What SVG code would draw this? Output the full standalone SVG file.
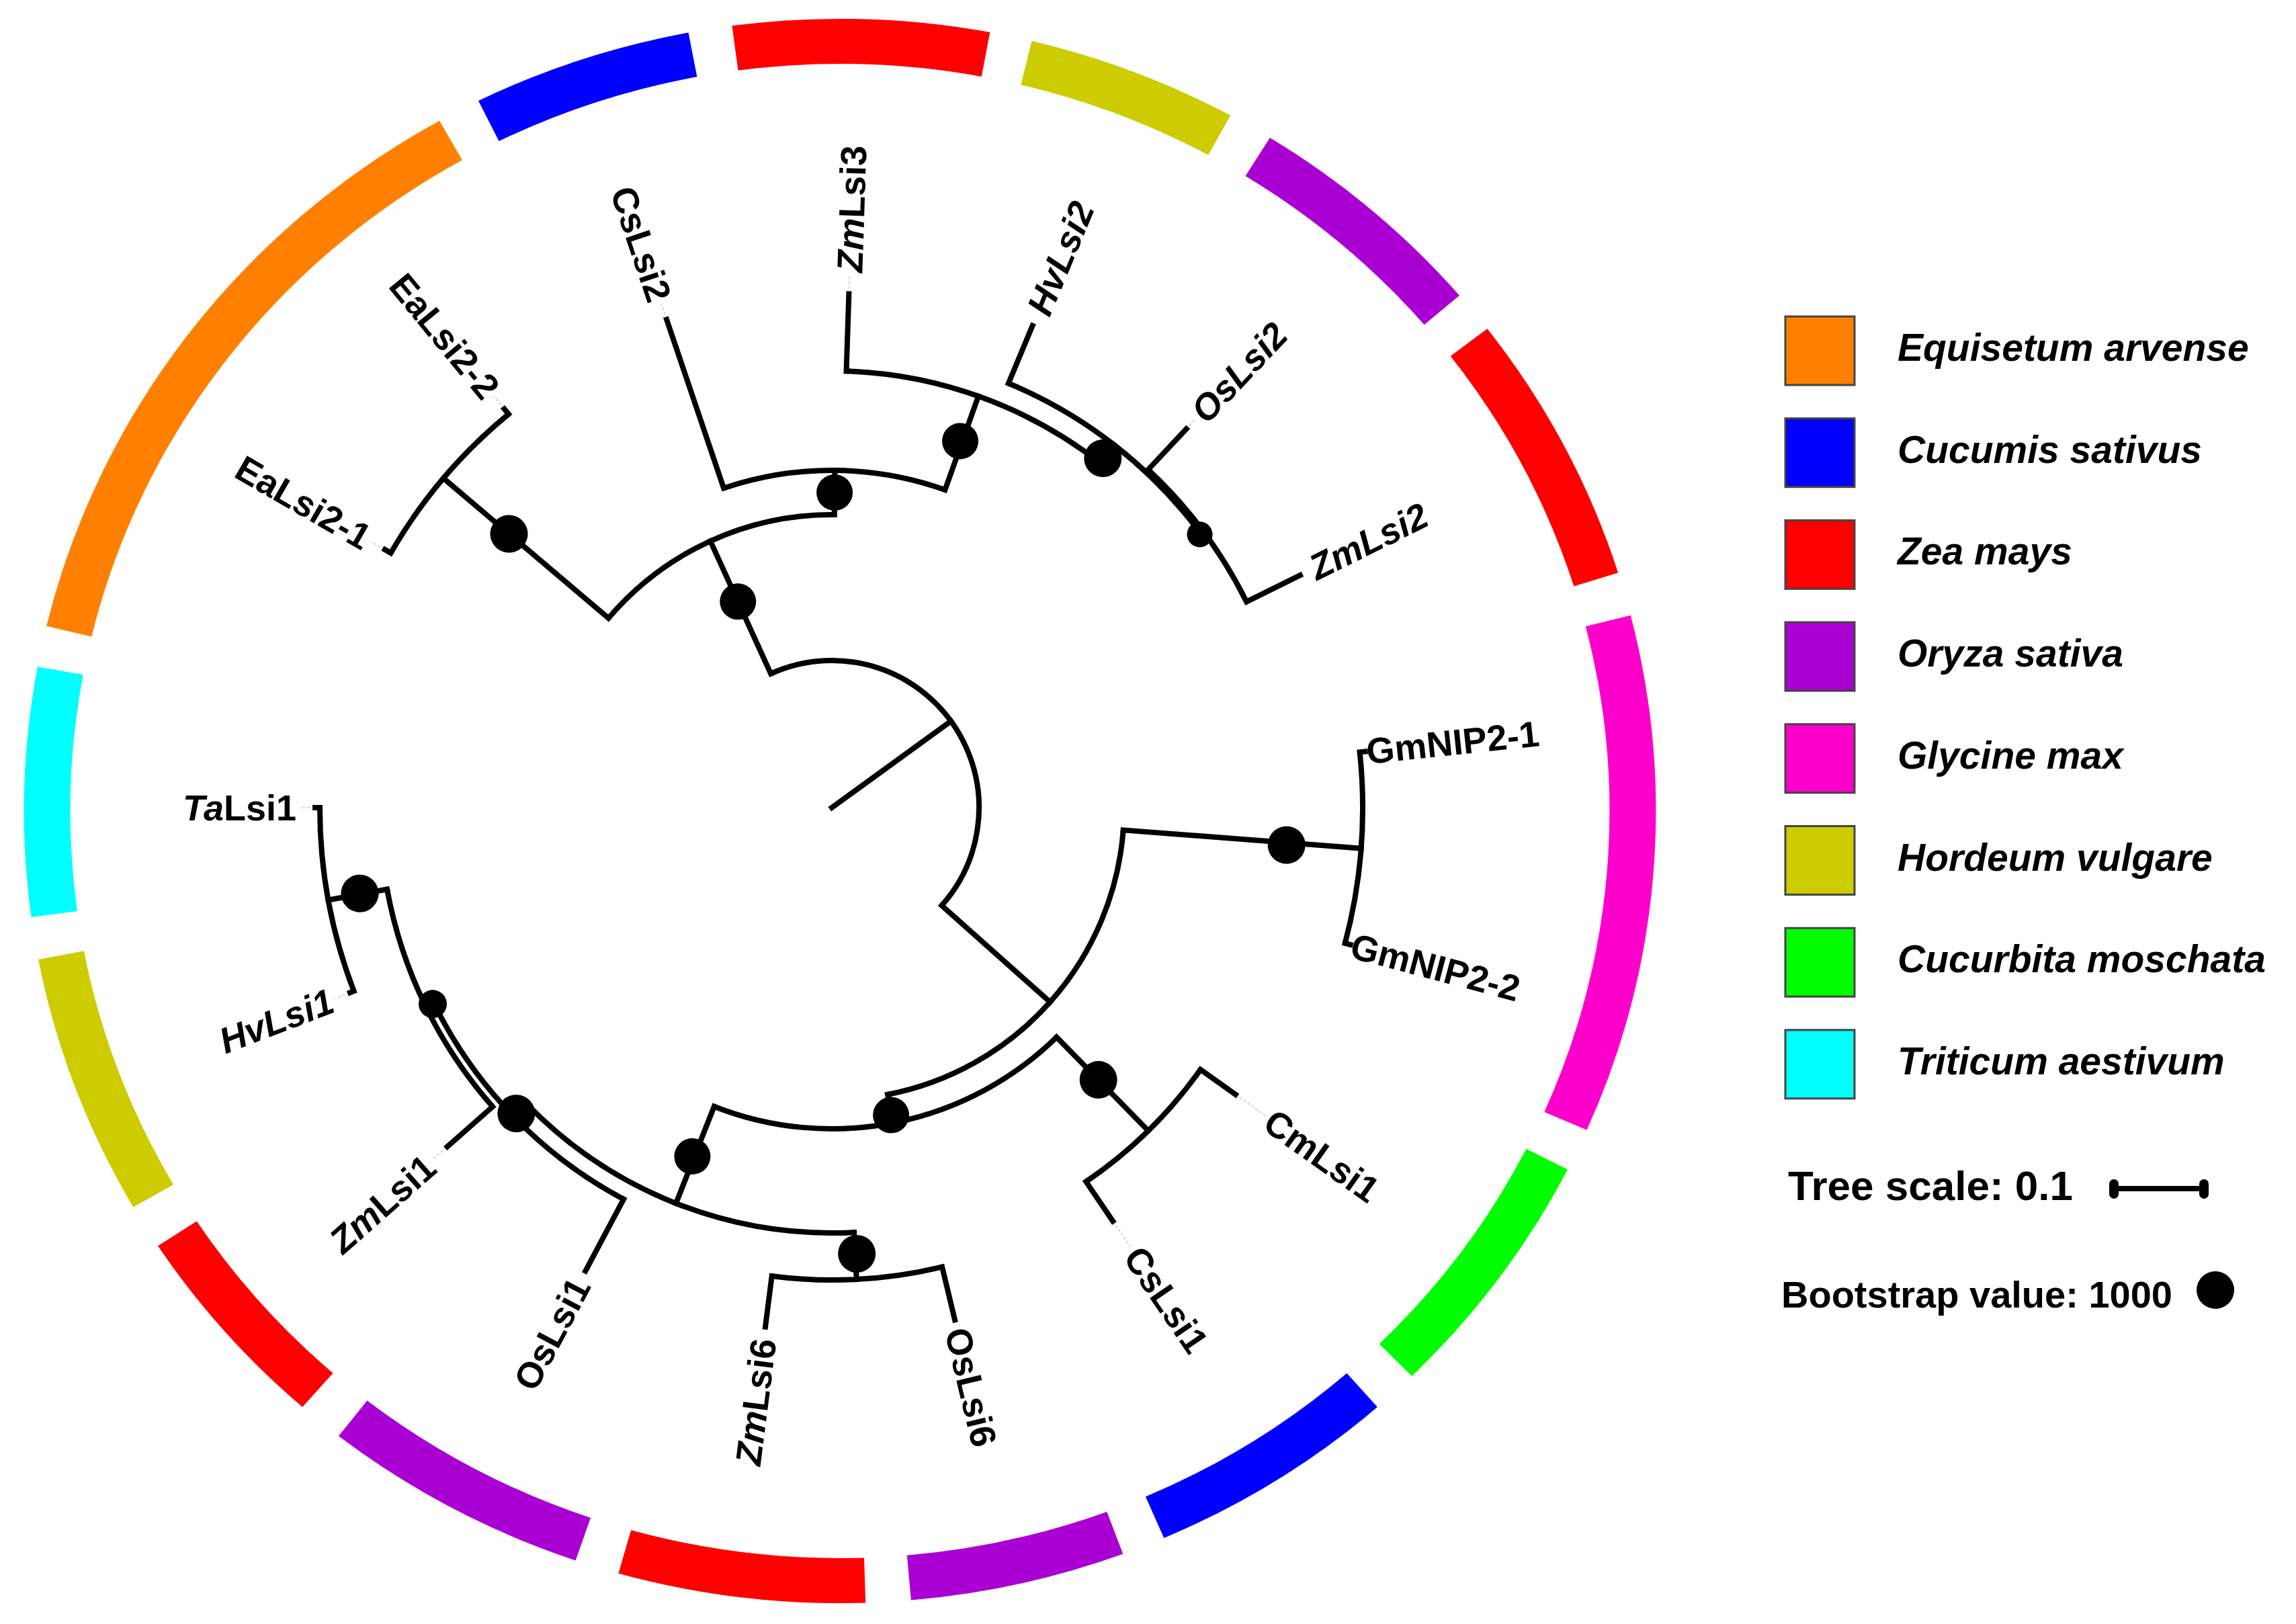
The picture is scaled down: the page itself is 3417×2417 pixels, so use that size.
<svg xmlns="http://www.w3.org/2000/svg" width="3417" height="2417" viewBox="0 0 3417 2417">
<style>
.br{stroke:#000;stroke-width:8;fill:none;stroke-linecap:square}
.arc{stroke:#000;stroke-width:8;fill:none}
.dot{fill:#000}
.lab{font-family:'Liberation Sans',Arial,sans-serif;font-weight:bold;font-size:54px;fill:#000}
.gd{stroke:#d4d4d4;stroke-width:2;stroke-dasharray:4 3}
.ring{fill:none;stroke-width:67}
.leg{font-family:'Liberation Sans',Arial,sans-serif;font-weight:bold;font-style:italic;font-size:57px;fill:#000}
.sw{stroke:#444;stroke-width:3}
</style>
<rect width="3417" height="2417" fill="#fff"/>
<g id="ring" transform="translate(1250,1207) scale(1.03,1)">
<circle class="ring" r="1145.5" stroke="#FF8000" stroke-dasharray="941.7 7300" transform="rotate(193.5)"/>
<circle class="ring" r="1145.5" stroke="#0000FF" stroke-dasharray="311.9 7300" transform="rotate(243.7)"/>
<circle class="ring" r="1145.5" stroke="#FF0000" stroke-dasharray="363.9 7300" transform="rotate(262.4)"/>
<circle class="ring" r="1145.5" stroke="#CCCC00" stroke-dasharray="299.9 7300" transform="rotate(283.6)"/>
<circle class="ring" r="1145.5" stroke="#AA00D4" stroke-dasharray="351.9 7300" transform="rotate(301.8)"/>
<circle class="ring" r="1145.5" stroke="#FF0000" stroke-dasharray="399.9 7300" transform="rotate(322.5)"/>
<circle class="ring" r="1145.5" stroke="#FF00CC" stroke-dasharray="760.7 7300" transform="rotate(345.7)"/>
<circle class="ring" r="1145.5" stroke="#00FF00" stroke-dasharray="371.9 7300" transform="rotate(26.9)"/>
<circle class="ring" r="1145.5" stroke="#0000FF" stroke-dasharray="355.9 7300" transform="rotate(48.8)"/>
<circle class="ring" r="1145.5" stroke="#AA00D4" stroke-dasharray="305.9 7300" transform="rotate(69.7)"/>
<circle class="ring" r="1145.5" stroke="#FF0000" stroke-dasharray="350.9 7300" transform="rotate(88.2)"/>
<circle class="ring" r="1145.5" stroke="#AA00D4" stroke-dasharray="379.9 7300" transform="rotate(108.9)"/>
<circle class="ring" r="1145.5" stroke="#FF0000" stroke-dasharray="309.9 7300" transform="rotate(131.2)"/>
<circle class="ring" r="1145.5" stroke="#CCCC00" stroke-dasharray="383.9 7300" transform="rotate(150)"/>
<circle class="ring" r="1145.5" stroke="#00FFFF" stroke-dasharray="363.9 7300" transform="rotate(172.3)"/>
</g>
<g id="tree" transform="translate(1238,1202)">
<g id="connectors">
<circle class="arc" r="219" stroke-dasharray="597.0 1400" transform="rotate(245.5)"/>
<circle class="arc" r="436" stroke-dasharray="382.0 2800" transform="rotate(220.3)"/>
<circle class="arc" r="758" stroke-dasharray="272.5 4800" transform="rotate(210)"/>
<circle class="arc" r="502" stroke-dasharray="335.6 3200" transform="rotate(251.3)"/>
<circle class="arc" r="650" stroke-dasharray="408.4 4100" transform="rotate(271.9)"/>
<circle class="arc" r="684" stroke-dasharray="367.7 4300" transform="rotate(292.6)"/>
<circle class="arc" r="689" stroke-dasharray="246.5 4400" transform="rotate(313.1)"/>
<circle class="arc" r="435" stroke-dasharray="566.4 2800" transform="rotate(4.4)"/>
<circle class="arc" r="790" stroke-dasharray="286.8 5000" transform="rotate(354)"/>
<circle class="arc" r="478" stroke-dasharray="549.8 3100" transform="rotate(45.6)"/>
<circle class="arc" r="673" stroke-dasharray="239.6 4300" transform="rotate(35.4)"/>
<circle class="arc" r="633" stroke-dasharray="540.2 4000" transform="rotate(87)"/>
<circle class="arc" r="703" stroke-dasharray="255.2 4500" transform="rotate(76.5)"/>
<circle class="arc" r="660" stroke-dasharray="414.7 4200" transform="rotate(118)"/>
<circle class="arc" r="673" stroke-dasharray="364.1 4300" transform="rotate(138.6)"/>
<circle class="arc" r="762" stroke-dasharray="279.3 4800" transform="rotate(159)"/>
<line class="br" x1="0" x2="219" transform="rotate(324)"/>
<line class="br" x1="219" x2="436" transform="rotate(245.5)"/>
<line class="br" x1="436" x2="758" transform="rotate(220.3)"/>
<line class="br" x1="758" x2="768" transform="rotate(210)"/>
<line class="br" x1="758" x2="768" transform="rotate(230.6)"/>
<line class="br" x1="436" x2="502" transform="rotate(270.5)"/>
<line class="br" x1="502" x2="767" transform="rotate(251.3)"/>
<line class="br" x1="502" x2="650" transform="rotate(289.6)"/>
<line class="br" x1="650" x2="765" transform="rotate(271.9)"/>
<line class="br" x1="650" x2="684" transform="rotate(307.9)"/>
<line class="br" x1="684" x2="777" transform="rotate(292.6)"/>
<line class="br" x1="684" x2="689" transform="rotate(323.4)"/>
<line class="br" x1="689" x2="772" transform="rotate(313.1)"/>
<line class="br" x1="689" x2="778" transform="rotate(333.6)"/>
<line class="br" x1="219" x2="435" transform="rotate(41.7)"/>
<line class="br" x1="435" x2="790" transform="rotate(4.4)"/>
<line class="br" x1="790" x2="798" transform="rotate(354)"/>
<line class="br" x1="790" x2="798" transform="rotate(14.8)"/>
<line class="br" x1="435" x2="478" transform="rotate(79)"/>
<line class="br" x1="478" x2="673" transform="rotate(45.6)"/>
<line class="br" x1="673" x2="737" transform="rotate(35.4)"/>
<line class="br" x1="673" x2="744" transform="rotate(55.8)"/>
<line class="br" x1="478" x2="633" transform="rotate(111.5)"/>
<line class="br" x1="633" x2="703" transform="rotate(87)"/>
<line class="br" x1="703" x2="784" transform="rotate(76.5)"/>
<line class="br" x1="703" x2="779" transform="rotate(97.3)"/>
<line class="br" x1="633" x2="660" transform="rotate(135.9)"/>
<line class="br" x1="660" x2="781" transform="rotate(118)"/>
<line class="br" x1="660" x2="673" transform="rotate(154)"/>
<line class="br" x1="673" x2="763" transform="rotate(138.6)"/>
<line class="br" x1="673" x2="762" transform="rotate(169.6)"/>
<line class="br" x1="762" x2="768" transform="rotate(159)"/>
<line class="br" x1="762" x2="769" transform="rotate(180)"/>
<line class="gd" x1="776" x2="792" transform="rotate(210)"/>
<line class="gd" x1="776" x2="792" transform="rotate(230.6)"/>
<line class="gd" x1="775" x2="792" transform="rotate(251.3)"/>
<line class="gd" x1="773" x2="792" transform="rotate(271.9)"/>
<line class="gd" x1="779" x2="792" transform="rotate(313.1)"/>
<line class="gd" x1="745" x2="792" transform="rotate(35.4)"/>
<line class="gd" x1="752" x2="792" transform="rotate(55.8)"/>
<line class="gd" x1="772" x2="792" transform="rotate(138.6)"/>
<line class="gd" x1="776" x2="792" transform="rotate(159)"/>
<line class="gd" x1="777" x2="792" transform="rotate(180)"/>
</g>
<g id="n_A"><circle class="dot" cx="337" r="27" transform="rotate(245.5)"/></g>
<g id="n_Ea"><circle class="dot" cx="630" r="28" transform="rotate(220.3)"/></g>
<g id="n_A2"><circle class="dot" cx="469" r="27" transform="rotate(270.5)"/></g>
<g id="n_A2b"><circle class="dot" cx="578" r="27" transform="rotate(289.3)"/></g>
<g id="n_HOZ"><circle class="dot" cx="658" r="28" transform="rotate(307.8)"/></g>
<g id="n_OZ"><circle class="dot" cx="682" r="19" transform="rotate(323.4)"/></g>
<g id="n_Gm"><circle class="dot" cx="679" r="28" transform="rotate(4.7)"/></g>
<g id="n_B2"><circle class="dot" cx="466" r="27" transform="rotate(79.1)"/></g>
<g id="n_Cuc"><circle class="dot" cx="567" r="28" transform="rotate(45.6)"/></g>
<g id="n_M"><circle class="dot" cx="559" r="27" transform="rotate(111.8)"/></g>
<g id="n_Lsi6"><circle class="dot" cx="665" r="28" transform="rotate(86.8)"/></g>
<g id="n_M2"><circle class="dot" cx="654" r="28" transform="rotate(135.9)"/></g>
<g id="n_ZTH"><circle class="dot" cx="662" r="21" transform="rotate(153.8)"/></g>
<g id="n_TH"><circle class="dot" cx="714" r="28" transform="rotate(169.7)"/></g>
<g id="leaf_EaLsi2-1"><text class="lab" text-anchor="end" dy="0.35em" transform="rotate(210) translate(797,0) rotate(180)">EaLsi2-1</text></g>
<g id="leaf_EaLsi2-2"><text class="lab" text-anchor="end" dy="0.35em" transform="rotate(230.6) translate(797,0) rotate(180)">EaLsi2-2</text></g>
<g id="leaf_CsLsi2"><text class="lab" text-anchor="end" dy="0.35em" transform="rotate(251.3) translate(797,0) rotate(180)">CsLsi2</text></g>
<g id="leaf_ZmLsi3"><text class="lab" dy="0.35em" transform="rotate(271.9) translate(797,0)"><tspan font-style="italic">Zm</tspan>Lsi3</text></g>
<g id="leaf_HvLsi2"><text class="lab" dy="0.35em" font-style="italic" transform="rotate(292.6) translate(797,0)">HvLsi2</text></g>
<g id="leaf_OsLsi2"><text class="lab" dy="0.35em" font-style="italic" transform="rotate(313.1) translate(797,0)">OsLsi2</text></g>
<g id="leaf_ZmLsi2"><text class="lab" dy="0.35em" font-style="italic" transform="rotate(333.6) translate(797,0)">ZmLsi2</text></g>
<g id="leaf_GmNIP2-1"><text class="lab" dy="0.35em" transform="rotate(354) translate(800,0)">GmNIP2-1</text></g>
<g id="leaf_GmNIP2-2"><text class="lab" dy="0.35em" transform="rotate(14.8) translate(800,0)">GmNIP2-2</text></g>
<g id="leaf_CmLsi1"><text class="lab" dy="0.35em" transform="rotate(35.4) translate(797,0)">CmLsi1</text></g>
<g id="leaf_CsLsi1"><text class="lab" dy="0.35em" transform="rotate(55.8) translate(797,0)">CsLsi1</text></g>
<g id="leaf_OsLsi6"><text class="lab" dy="0.35em" transform="rotate(76.5) translate(797,0)">OsLsi6</text></g>
<g id="leaf_ZmLsi6"><text class="lab" text-anchor="end" dy="0.35em" transform="rotate(97.3) translate(797,0) rotate(180)"><tspan font-style="italic">Zm</tspan>Lsi6</text></g>
<g id="leaf_OsLsi1"><text class="lab" text-anchor="end" dy="0.35em" transform="rotate(118) translate(797,0) rotate(180)">OsLsi1</text></g>
<g id="leaf_ZmLsi1"><text class="lab" text-anchor="end" dy="0.35em" transform="rotate(138.6) translate(797,0) rotate(180)"><tspan font-style="italic">Zm</tspan>Lsi1</text></g>
<g id="leaf_HvLsi1"><text class="lab" text-anchor="end" dy="0.35em" font-style="italic" transform="rotate(159) translate(797,0) rotate(180)">HvLsi1</text></g>
<g id="leaf_TaLsi1"><text class="lab" text-anchor="end" dy="0.35em" transform="rotate(180) translate(797,0) rotate(180)"><tspan font-style="italic">Ta</tspan>Lsi1</text></g>
</g>
<g id="legend">
<g id="leg_equisetum"><rect class="sw" x="2657" y="471" width="103" height="102" fill="#FF8000"/><text class="leg" x="2824" y="537">Equisetum arvense</text></g>
<g id="leg_cucumis"><rect class="sw" x="2657" y="622.7" width="103" height="102" fill="#0000FF"/><text class="leg" x="2824" y="688.7">Cucumis sativus</text></g>
<g id="leg_zea"><rect class="sw" x="2657" y="774.4" width="103" height="102" fill="#FF0000"/><text class="leg" x="2824" y="840.4">Zea mays</text></g>
<g id="leg_oryza"><rect class="sw" x="2657" y="926.1" width="103" height="102" fill="#AA00D4"/><text class="leg" x="2824" y="992.1">Oryza sativa</text></g>
<g id="leg_glycine"><rect class="sw" x="2657" y="1077.8" width="103" height="102" fill="#FF00CC"/><text class="leg" x="2824" y="1143.8">Glycine max</text></g>
<g id="leg_hordeum"><rect class="sw" x="2657" y="1229.5" width="103" height="102" fill="#CCCC00"/><text class="leg" x="2824" y="1295.5">Hordeum vulgare</text></g>
<g id="leg_cucurbita"><rect class="sw" x="2657" y="1381.2" width="103" height="102" fill="#00FF00"/><text class="leg" x="2824" y="1447.2">Cucurbita moschata</text></g>
<g id="leg_triticum"><rect class="sw" x="2657" y="1532.9" width="103" height="102" fill="#00FFFF"/><text class="leg" x="2824" y="1598.9">Triticum aestivum</text></g>
<g id="treescale">
<text x="2661" y="1786" font-family="'Liberation Sans',Arial,sans-serif" font-weight="bold" font-size="62">Tree scale: 0.1</text>
<line x1="3146" y1="1769" x2="3280" y2="1769" stroke="#000" stroke-width="8"/>
<line x1="3146" y1="1762" x2="3146" y2="1777" stroke="#000" stroke-width="14" stroke-linecap="round"/>
<line x1="3280" y1="1762" x2="3280" y2="1777" stroke="#000" stroke-width="14" stroke-linecap="round"/>
</g>
<g id="bootstrap">
<text x="2651" y="1946" font-family="'Liberation Sans',Arial,sans-serif" font-weight="bold" font-size="56">Bootstrap value: 1000</text>
<circle cx="3297" cy="1920" r="28" fill="#000"/>
</g>
</g>
</svg>
